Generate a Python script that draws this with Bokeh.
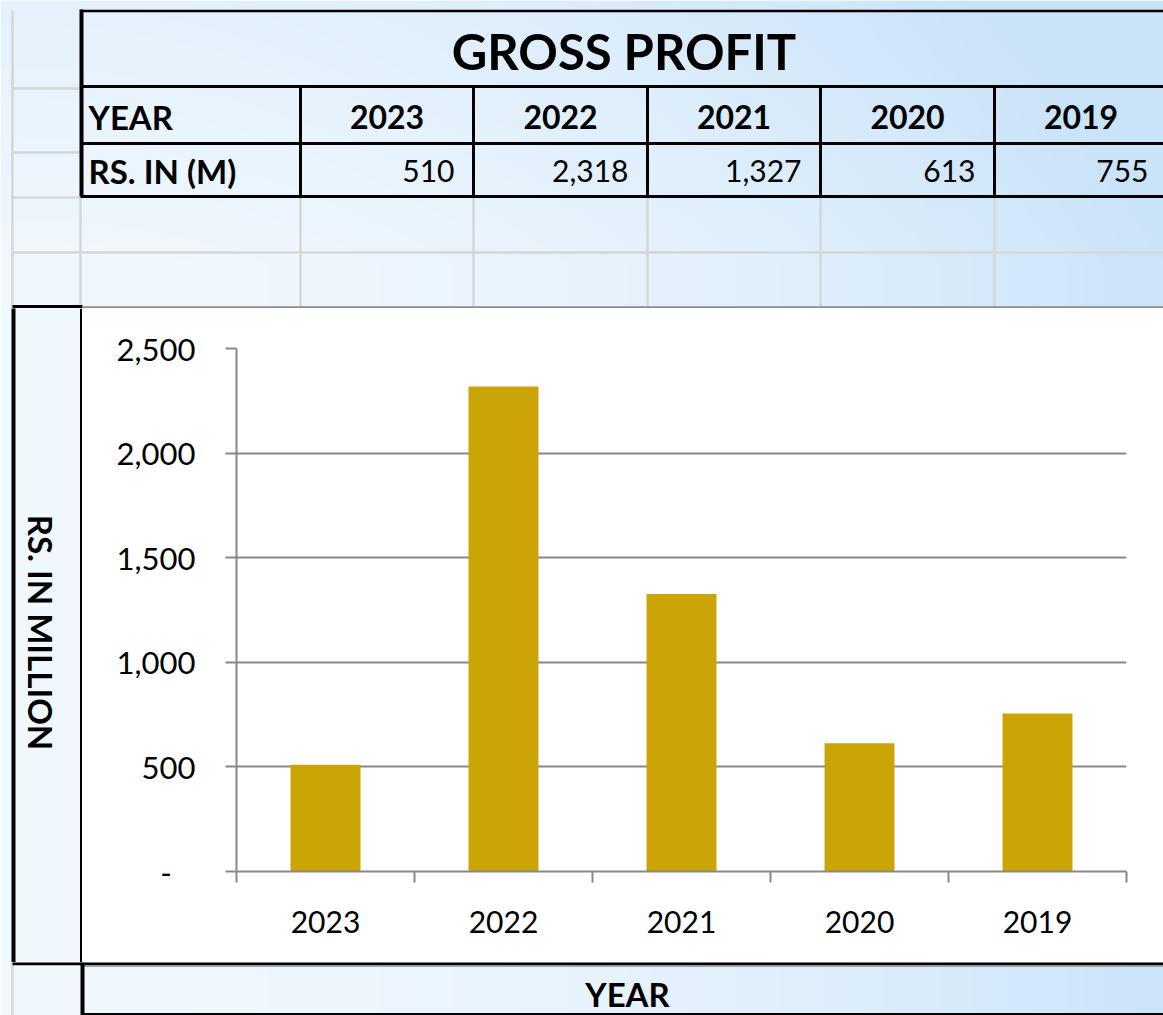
import numpy as np
from bokeh.plotting import figure
from bokeh.layouts import column, row
from bokeh.models import Range1d, FixedTicker, NumeralTickFormatter
from bokeh.core.properties import value
from bokeh.embed import file_html
from bokeh.resources import INLINE

# ---- data ----
years = ["2023", "2022", "2021", "2020", "2019"]
profit = [510, 2318, 1327, 613, 755]
y_ticks = [0, 500, 1000, 1500, 2000, 2500]
title_text = "GROSS PROFIT"
row_labels = ["YEAR", "RS. IN (M)"]
y_label = "RS. IN MILLION"
x_label = "YEAR"

FONT = value("Lato")
W, H = 1163, 1015
BAR = "#CBA406"
GRID = "#888888"
CELL = "#d6d6d6"

# ---- background gradient (decoration) ----
h, w = 254, 291
xs = np.linspace(0, W, w)
ys = np.linspace(0, H, h)
X, Y = np.meshgrid(xs, ys)
t = np.clip(0.95 * (X / W) ** 2.0 + 0.3 * np.clip(1 - Y / 260, 0, 1), 0, 1)
light = np.array([241, 248, 254])
blue = np.array([201, 227, 249])
img = np.empty((h, w), dtype=np.uint32)
view = img.view(dtype=np.uint8).reshape((h, w, 4))
for k in range(3):
    view[:, :, k] = (light[k] + (blue[k] - light[k]) * t).astype(np.uint8)
view[:, :, 3] = 255


def deco(width, height, x0, x1, y0, y1):
    p = figure(width=width, height=height, x_range=Range1d(x0, x1),
               y_range=Range1d(y1, y0), output_backend="svg",
               toolbar_location=None, min_border=0, frame_align=False)
    p.axis.visible = False
    p.grid.visible = False
    p.outline_line_color = None
    p.image_rgba(image=[img], x=0, y=0, dw=W, dh=H)
    return p


def seg(p, lines, color, width):
    p.segment(x0=[l[0] for l in lines], y0=[l[1] for l in lines],
              x1=[l[2] for l in lines], y1=[l[3] for l in lines],
              line_color=color, line_width=width)


# ---- top: title + table ----
top = deco(W, 308, 0, W, 0, 308)
cols = [80, 300, 473, 647, 820, 994, 1167]
seg(top, [(12, 10, 12, 308)], CELL, 2.5)
seg(top, [(12, 88, 80, 88), (12, 152, 80, 152), (12, 197, 80, 197)], CELL, 2.5)
seg(top, [(12, 252, W, 252)], CELL, 2.5)
seg(top, [(c, 197, c, 306) for c in cols[:-1]], CELL, 2.5)
seg(top, [(12, 306, 82, 306)], "black", 3)
seg(top, [(82, 307, W, 307)], "#8c8c8c", 2.5)
seg(top, [(80, 10.5, W, 10.5)], "black", 2.5)
seg(top, [(81, 9, 81, 196)], "black", 4)
seg(top, [(80, 86, W, 86), (80, 143, W, 143), (80, 196, W, 196)], "black", 3)
seg(top, [(c, 86, c, 196) for c in cols[1:-1]], "black", 3)
top.text(x=[(cols[0] + cols[-1]) / 2], y=[50], text=[title_text],
         text_font=FONT, text_font_style="bold", text_font_size="49px",
         text_align="center", text_baseline="middle", text_color="black")
top.text(x=[88, 88], y=[116, 170], text=row_labels,
         text_font=FONT, text_font_style="bold", text_font_size="33px",
         text_align="left", text_baseline="middle", text_color="black")
centers = [(cols[i + 1] + cols[i + 2]) / 2 for i in range(len(years))]
top.text(x=centers, y=[116] * len(years), text=years,
         text_font=FONT, text_font_style="bold", text_font_size="32px",
         text_align="center", text_baseline="middle", text_color="black")
rights = [cols[i + 2] - 19 for i in range(len(years))]
top.text(x=rights, y=[170] * len(years), text=[f"{v:,}" for v in profit],
         text_font=FONT, text_font_size="30px",
         text_align="right", text_baseline="middle", text_color="black")

# ---- left: y label box ----
left = deco(82, 654, 0, 82, 308, 962)
seg(left, [(13, 305, 13, 962)], "black", 4)
seg(left, [(80.5, 308, 80.5, 962)], "black", 2)
left.text(x=[40], y=[632], text=[y_label], angle=-np.pi / 2,
          text_font=FONT, text_font_style="bold", text_font_size="33px",
          text_align="center", text_baseline="middle", text_color="black")

# ---- chart ----
n = len(years)
p = figure(width=1081, height=654, x_range=Range1d(0, n),
           y_range=Range1d(0, 2500), output_backend="svg",
           toolbar_location=None, min_border_left=154, min_border_right=37,
           min_border_top=40, min_border_bottom=91, frame_align=False)
p.background_fill_color = "white"
p.border_fill_color = "white"
p.outline_line_color = None
p.vbar(x=[i + 0.5 for i in range(n)], top=profit, width=0.393,
       fill_color=BAR, line_color=None)
p.xgrid.visible = False
p.ygrid.grid_line_color = GRID
p.ygrid.grid_line_width = 2
p.ygrid.ticker = FixedTicker(ticks=y_ticks)

p.yaxis.ticker = FixedTicker(ticks=y_ticks)
p.yaxis.formatter = NumeralTickFormatter(format="0,0")
p.yaxis.major_label_overrides = {0: "-\u00a0\u00a0\u00a0"}
p.yaxis.axis_line_color = GRID
p.yaxis.axis_line_width = 2
p.yaxis.major_tick_line_color = GRID
p.yaxis.major_tick_line_width = 2
p.yaxis.major_tick_out = 11
p.yaxis.major_tick_in = 0
p.yaxis.minor_tick_line_color = None
p.yaxis.major_label_standoff = 30
p.yaxis.major_label_text_font = "Lato"
p.yaxis.major_label_text_font_size = "31px"
p.yaxis.major_label_text_color = "black"

p.xaxis.ticker = FixedTicker(ticks=[i + 0.5 for i in range(n)],
                             minor_ticks=list(range(n + 1)))
p.xaxis.major_label_overrides = {i + 0.5: years[i] for i in range(n)}
p.xaxis.axis_line_color = GRID
p.xaxis.axis_line_width = 2
p.xaxis.major_tick_line_color = None
p.xaxis.major_tick_out = 0
p.xaxis.major_tick_in = 0
p.xaxis.minor_tick_line_color = GRID
p.xaxis.minor_tick_line_width = 2
p.xaxis.minor_tick_out = 11
p.xaxis.minor_tick_in = 0
p.xaxis.major_label_standoff = 28
p.xaxis.major_label_text_font = "Lato"
p.xaxis.major_label_text_font_size = "30px"
p.xaxis.major_label_text_color = "black"

# ---- bottom: x label strip ----
bot = deco(W, 53, 0, W, 962, 1015)
seg(bot, [(12, 962, 12, 1015)], CELL, 2.5)
seg(bot, [(12, 963, W, 963)], "black", 3.5)
seg(bot, [(82, 965.5, W, 965.5)], "#8c8c8c", 1.5)
seg(bot, [(82, 962, 82, 1015)], "black", 4)
seg(bot, [(82, 1013.5, W, 1013.5)], "black", 2)
bot.text(x=[627], y=[993], text=[x_label],
         text_font=FONT, text_font_style="bold", text_font_size="33px",
         text_align="center", text_baseline="middle", text_color="black")

layout = column(top, row(left, p, spacing=0), bot, spacing=0)
open("out.html", "w").write(file_html(layout, INLINE))
